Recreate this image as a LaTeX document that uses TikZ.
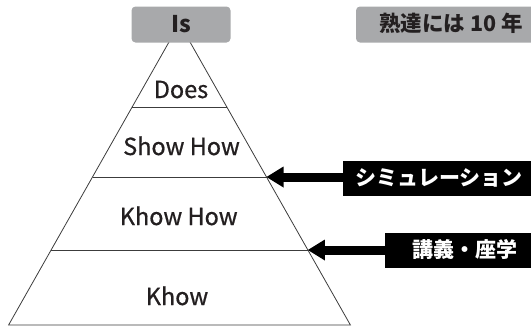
\documentclass[tikz,border=0pt]{standalone}
\usepackage{fontspec}
\setmainfont{Noto Sans CJK JP}
\newfontfamily\lblfont{Noto Sans CJK JP}[FakeBold=0.7]
\usetikzlibrary{calc}
\definecolor{boxgray}{RGB}{168,169,171}
\definecolor{txt}{RGB}{35,31,32}
\definecolor{linec}{RGB}{60,60,60}
\begin{document}
\begin{tikzpicture}[x=1pt,y=-1pt,
  edge/.style={draw=linec,line width=0.8pt},
  graybox/.style={fill=boxgray,rounded corners=4pt,text=txt,inner sep=0pt,
    minimum height=36pt,text height=12pt,text depth=0pt},
  blackbox/.style={fill=black,text=white,inner sep=0pt,minimum height=35pt,
    font=\bfseries\fontsize{21}{21}\selectfont,text height=14pt,text depth=0pt},
  level/.style={text=txt,anchor=base,inner sep=0pt,font=\lblfont\fontsize{23.5}{23.5}\selectfont},
  shaft/.style={line width=9pt,draw=black},
  head/.style={fill=black}]
\useasboundingbox (0,0) rectangle (531,327);
\clip (0,0) rectangle (531,327);
% pyramid geometry
\coordinate (apex) at (179.5,23.5);
\coordinate (bl) at (8.6,325);
\coordinate (br) at (350.4,325);
\coordinate (l1) at (132.2,107); \coordinate (r1) at (226.8,107);
\coordinate (l2) at (92.5,177);  \coordinate (r2) at (266.5,177);
\coordinate (l3) at (51.1,250);  \coordinate (r3) at (307.9,250);
\draw[edge] (bl) -- (apex) -- (br) -- cycle;
\draw[edge] (l1) -- (r1);
\draw[edge] (l2) -- (r2);
\draw[edge] (l3) -- (r3);
% top boxes
\node[graybox,minimum width=99pt,font=\bfseries\fontsize{23}{23}\selectfont,text height=15.5pt] (is) at (181,24.5) {Is};
\node[graybox,minimum width=190pt,font=\bfseries\fontsize{21.5}{21.5}\selectfont,text height=14.5pt] (mastery) at (451,24.5) {熟達には\hspace{5pt}10\hspace{5pt}年};
% level labels
\node[level] (does) at (181,98) {Does};
\node[level] (show) at (181.5,155) {Show How};
\node[level] (khowhow) at (178.7,225) {Khow How};
\node[level] (khow) at (177,305) {Khow};
% arrow boxes
\node[blackbox,minimum width=192pt] (sim) at (439,178) {シミュレーション};
\node[blackbox,minimum width=160pt] (lec) at (465,250.5) {講義・座学};
% arrows
\draw[shaft] (sim.west |- r2) -- ($(r2)+(15,0)$);
\fill[head] (r2) -- ++(17,-10.5) -- ++(0,21) -- cycle;
\draw[shaft] (lec.west |- r3) -- ($(r3)+(15,0)$);
\fill[head] (r3) -- ++(17,-10.5) -- ++(0,21) -- cycle;
\end{tikzpicture}
\end{document}
